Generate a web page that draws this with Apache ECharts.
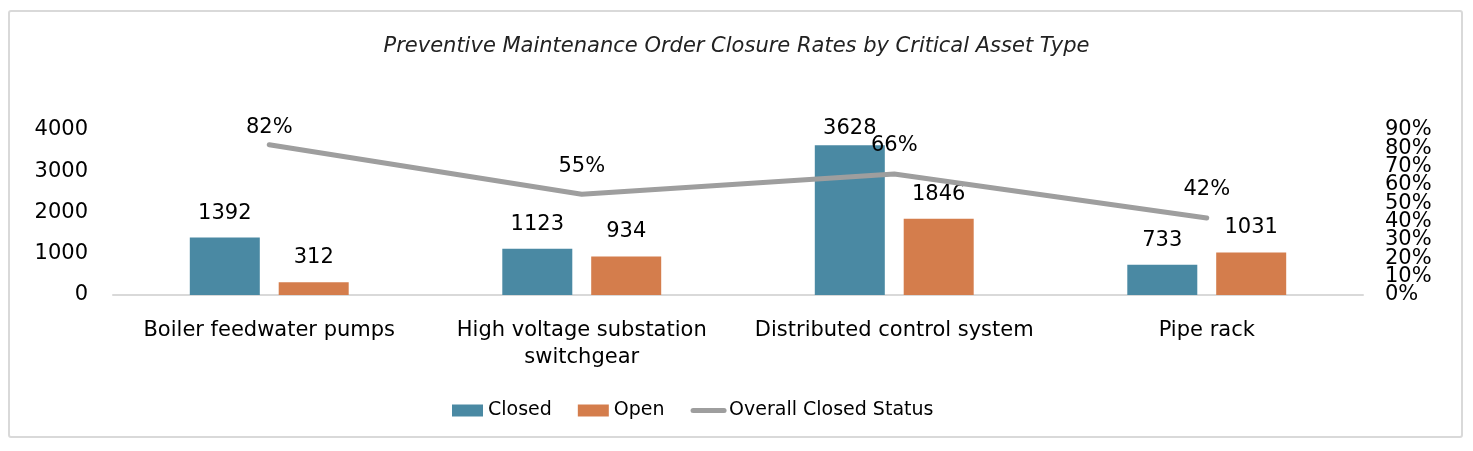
<!DOCTYPE html>
<html>
<head>
<meta charset="utf-8">
<script src="https://cdn.jsdelivr.net/npm/echarts@6/dist/echarts.min.js"></script>
<style>
html,body{margin:0;padding:0;background:#fff;}
#frame{position:absolute;left:8px;top:10px;width:1455px;height:428px;border:2px solid #d9d9d9;border-radius:3px;box-sizing:border-box;}
#chart{position:absolute;left:0;top:0;width:1473px;height:451px;}
</style>
</head>
<body>
<div id="frame"></div>
<div id="chart"></div>
<script>
const categories = ['Boiler feedwater pumps', 'High voltage substation\nswitchgear', 'Distributed control system', 'Pipe rack'];
const closedValues = [1392, 1123, 3628, 733];
const openValues = [312, 934, 1846, 1031];
const closedRate = [0.82, 0.55, 0.66, 0.42];
const titleText = 'Preventive Maintenance Order Closure Rates by Critical Asset Type';

const FONT = '"DejaVu Sans", sans-serif';
const FS = 21;
const pct = v => Math.round(v * 100);
const rightAxisBase = {
  type: 'value', min: 0, max: 0.9, interval: 0.1, position: 'right', offset: 0,
  axisLine: { show: false }, axisTick: { show: false }, splitLine: { show: false }
};
const rightLabel = { fontFamily: FONT, fontSize: FS, color: '#000', margin: 22 };

const chart = echarts.init(document.getElementById('chart'));
chart.setOption({
  animation: false,
  textStyle: { fontFamily: FONT, color: '#000' },
  title: {
    text: titleText, left: 'center', top: 31,
    textStyle: { fontFamily: FONT, fontStyle: 'italic', fontWeight: 'normal', fontSize: 21, color: '#222' }
  },
  legend: {
    top: 401, left: 452, padding: 0, itemWidth: 31, itemHeight: 12, itemGap: 26,
    textStyle: { fontFamily: FONT, fontSize: 19, color: '#000' },
    data: [
      { name: 'Closed', icon: 'rect' },
      { name: 'Open', icon: 'rect' },
      { name: 'Overall Closed Status', itemStyle: { color: 'rgba(0,0,0,0)', borderWidth: 0 }, lineStyle: { color: '#9e9e9e', width: 5, cap: 'round' } }
    ]
  },
  grid: { left: 113, right: 110, top: 130, bottom: 156, containLabel: false },
  xAxis: {
    type: 'category', data: categories,
    axisLine: { lineStyle: { color: '#d9d9d9', width: 2 } },
    axisTick: { show: false },
    axisLabel: { fontFamily: FONT, fontSize: FS, color: '#000', margin: 22, lineHeight: 27, interval: 0 }
  },
  yAxis: [
    {
      type: 'value', min: 0, max: 4000, interval: 1000,
      axisLine: { show: false }, axisTick: { show: false }, splitLine: { show: false },
      axisLabel: { fontFamily: FONT, fontSize: FS, color: '#000', margin: 25, padding: [5, 0, 0, 0], formatter: v => String(v) }
    },
    Object.assign({}, rightAxisBase, {
      axisLabel: Object.assign({}, rightLabel, { showMinLabel: true,
        formatter: v => (pct(v) % 20 === 0 ? pct(v) + '%' : '') })
    }),
    Object.assign({}, rightAxisBase, {
      axisLabel: Object.assign({}, rightLabel, { showMaxLabel: true,
        formatter: v => (pct(v) % 20 === 10 ? pct(v) + '%' : '') })
    })
  ],
  series: [
    {
      name: 'Closed', type: 'bar', barWidth: 70, barGap: '27%',
      data: closedValues.map((v, i) => i === 2 ? { value: v, label: { distance: 6 } } : v),
      itemStyle: { color: '#4a89a3' },
      label: { show: true, position: 'top', distance: 14, fontFamily: FONT, fontSize: FS, color: '#000' }
    },
    {
      name: 'Open', type: 'bar', data: openValues, barWidth: 70, barGap: '27%',
      itemStyle: { color: '#d47d4c' },
      label: { show: true, position: 'top', distance: 14, fontFamily: FONT, fontSize: FS, color: '#000' }
    },
    {
      name: 'Overall Closed Status', type: 'line', yAxisIndex: 1,
      data: closedRate.map((v, i) => i === 0 ? { value: v, label: { distance: 6 } } : v),
      symbol: 'circle', symbolSize: 1, lineStyle: { color: '#9e9e9e', width: 5, cap: 'round' },
      itemStyle: { color: '#9e9e9e' },
      label: { show: true, position: 'top', distance: 17, fontFamily: FONT, fontSize: FS, color: '#000',
        formatter: p => pct(p.value) + '%' }
    }
  ]
});
</script>
</body>
</html>
